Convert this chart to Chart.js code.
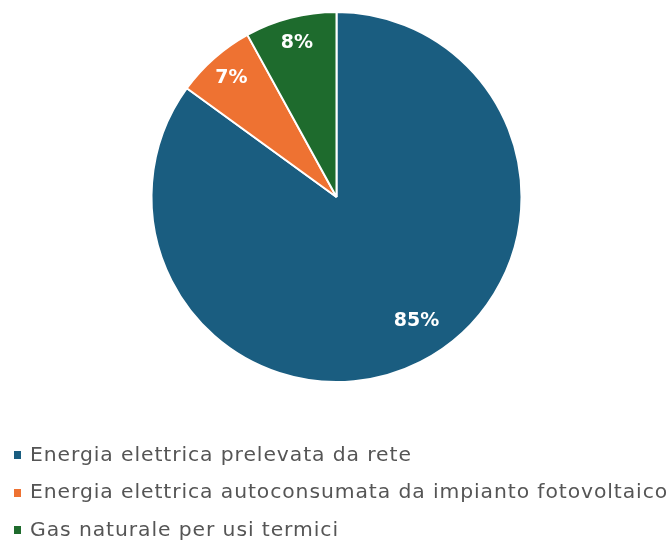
<!DOCTYPE html>
<html><head><meta charset="utf-8">
<script src="https://cdn.jsdelivr.net/npm/chart.js@4/dist/chart.umd.min.js"></script>
<style>
html,body{margin:0;padding:0;background:#fff;}
#wrap{position:relative;width:671px;height:542px;}
#c{position:absolute;left:0;top:0;}
#legend{position:absolute;left:14px;top:435px;font-family:"DejaVu Sans",sans-serif;font-size:19px;letter-spacing:0.85px;color:#555;}
.item{height:37.5px;display:flex;align-items:center;white-space:nowrap;}
.sw{width:7px;height:8px;margin-right:9px;margin-top:3px;flex:none;}
.tx{display:inline-block;transform:scaleX(1.07);transform-origin:left center;}
</style></head><body>
<div id="wrap"><canvas id="c" width="671" height="542"></canvas><div id="legend"></div></div>
<script>
const categories = ["Energia elettrica prelevata da rete","Energia elettrica autoconsumata da impianto fotovoltaico","Gas naturale per usi termici"];
const values = [85, 7, 8];
const colors = ["#1a5d80", "#ee7232", "#1e6b2d"];

const labelPlugin = {
  id: 'pctLabels',
  afterDatasetsDraw(chart) {
    const ctx = chart.ctx;
    const meta = chart.getDatasetMeta(0);
    ctx.save();
    ctx.fillStyle = '#fff';
    ctx.font = 'bold 19px "DejaVu Sans", sans-serif';
    ctx.textAlign = 'center';
    ctx.textBaseline = 'middle';
    meta.data.forEach((arc, i) => {
      const p = arc.getProps(['x','y','startAngle','endAngle','outerRadius'], true);
      let mid = (p.startAngle + p.endAngle) / 2;
      if (i === 0) mid -= 0.1;
      const r = p.outerRadius * (i === 0 ? 0.8 : 0.86);
      ctx.fillText(values[i] + '%', p.x + Math.cos(mid) * r, p.y + Math.sin(mid) * r);
    });
    ctx.restore();
  }
};

const chart = new Chart(document.getElementById('c'), {
  type: 'pie',
  data: { labels: categories, datasets: [{ data: values, backgroundColor: colors, borderColor: '#fff', borderWidth: 2 }] },
  options: {
    responsive: false, animation: false,
    layout: { padding: { top: 11, bottom: 159, left: 2, right: 0 } },
    plugins: { legend: { display: false }, tooltip: { enabled: false } }
  },
  plugins: [labelPlugin]
});

const lg = document.getElementById('legend');
categories.forEach((c, i) => {
  const d = document.createElement('div'); d.className = 'item';
  const s = document.createElement('span'); s.className = 'sw'; s.style.background = colors[i];
  const t = document.createElement('span'); t.className = 'tx'; t.textContent = c;
  d.appendChild(s); d.appendChild(t); lg.appendChild(d);
});
</script>
</body></html>
